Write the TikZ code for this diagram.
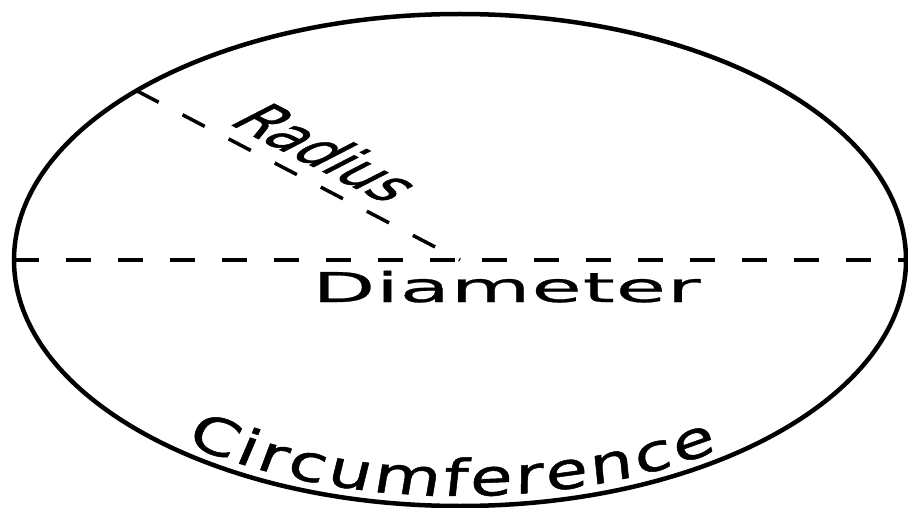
\documentclass[tikz,border=0pt]{standalone}
\usepackage{fontspec}
\newfontfamily\diafont[FakeStretch=2,LetterSpace=2,FakeBold=0.6]{DejaVu Sans}
\newfontfamily\radfont[FakeBold=1]{DejaVu Sans}
\newfontfamily\circfont[FakeStretch=1.35,FakeSlant=0.1,FakeBold=1]{DejaVu Sans}
\usetikzlibrary{decorations.text,calc}
\begin{document}
\begin{tikzpicture}[x=1pt,y=1pt,
  outline/.style={line width=4.5pt},
  dashline/.style={line width=3.5pt, dash pattern=on 25pt off 27pt},
  lbl/.style={anchor=base west, inner sep=0pt}
  ]
\useasboundingbox (0,0) rectangle (908,507);
\coordinate (O) at (460,247);
\coordinate (L) at (14,247);
\coordinate (Rt) at (908,247);
\coordinate (P) at ($(O)+(136.5:446pt and 246pt)$);
\draw[outline] (O) ellipse [x radius=446pt, y radius=246pt];
\draw[dashline] (L) -- (Rt);
\draw[dashline] (P) -- (O);
\node[lbl] (dia) at (312,205) {\diafont\fontsize{41}{41}\selectfont Diameter};
\node[lbl, rotate=-27, xslant=0.72] (rad) at (227,384) {\radfont\fontsize{53}{53}\selectfont Radius};
\path[decorate, decoration={text along path,
   text={|\circfont\fontsize{51}{51}\selectfont|Circumference},
   text align={fit to path}}]
   (O) ++(230.9:436pt and 236pt) arc[start angle=230.9, end angle=306.1, x radius=436pt, y radius=236pt];
\end{tikzpicture}
\end{document}
